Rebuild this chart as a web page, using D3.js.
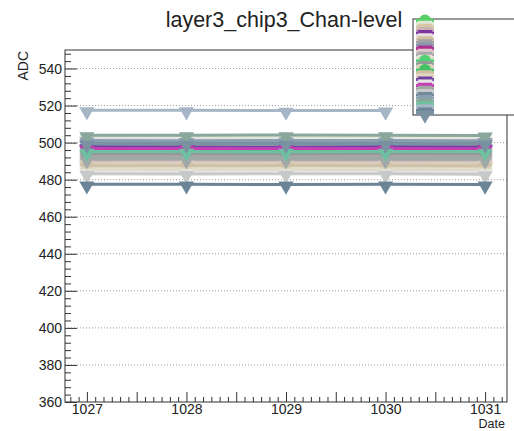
<!DOCTYPE html>
<html>
<head>
<meta charset="utf-8">
<script src="https://cdn.jsdelivr.net/npm/d3@7"></script>
<style>
  html, body { margin: 0; padding: 0; background: #fff; }
  svg { display: block; font-family: "Liberation Sans", Arial, Helvetica, sans-serif; }
</style>
</head>
<body>
<svg id="chart" width="514" height="431"></svg>
<script>
// Run dates on the x axis
const dates = [1027, 1028, 1029, 1030, 1031];

// Channel series: name, colour, marker and ADC level per date (null = no reading)
const channelNames = [
  "ch0","ch1","ch2","ch3","ch4","ch5","ch6","ch7","ch8","ch9",
  "ch10","ch11","ch12","ch13","ch14","ch15","ch16","ch17","ch18","ch19",
  "ch20","ch21","ch22","ch23","ch24","ch25","ch26","ch27","ch28","ch29","ch30"
];
const channelColors = [
  "#55cf66","#dfe7d6","#d6c7a6","#c9b2b2","#7e32a0","#e8e0e0","#cfc0a0","#a2a2a2","#8898b0","#b0308f",
  "#e0c8d0","#a9a9a9","#e1e0d0","#52d072","#919a99","#d8d0b8","#42c262","#d1c1a9","#e0d8c0","#7040a0",
  "#e6e6e6","#c43fb4","#a1a8a8","#c7c9c9","#71899b","#8aa0b0","#89a79b","#6fc0a0","#a6b6c6","#6b8597","#7a91a1"
];
const channelMarkers = [
  "circle","tri","tri","tri","tri","tri","tri","tri","tri","tri",
  "tri","tri","tri","circle","tri","tri","circle","tri","tri","tri",
  "tri","tri","tri","tri","tri","tri","tri","tri","tri","tri","tri"
];
const channelValues = [
  [495.0, 495.1, 495.0, 494.9, 495.0],
  [503.0, 503.1, 502.9, 503.0, 503.0],
  [488.0, 488.1, 488.0, 487.9, 488.0],
  [490.0, 490.0, 490.1, 490.0, 489.9],
  [496.5, 496.4, 496.5, 496.6, 496.5],
  [502.0, 502.0, 501.4, 501.4, 501.5],
  [487.0, 487.1, 487.0, 487.0, 486.9],
  [492.0, 492.0, 492.1, 492.0, 492.0],
  [499.0, 499.0, 499.1, 499.0, 498.9],
  [497.0, 497.0, 497.1, 497.0, 497.0],
  [489.0, 489.1, 489.0, 489.0, 489.0],
  [493.0, 493.0, 493.0, 493.1, 493.0],
  [486.0, 486.0, 486.1, 486.0, 486.0],
  [495.5, 495.5, 495.4, 495.5, 495.6],
  [494.0, 494.0, 494.0, 494.1, 494.0],
  [488.6, 488.5, 488.6, 488.5, 488.5],
  [496.0, 496.1, 496.0, 496.0, 496.0],
  [487.5, 487.5, 487.6, 487.5, 487.4],
  [485.0, 485.1, 485.0, 485.0, 485.0],
  [497.6, 497.5, 497.5, 497.6, 497.5],
  [484.0, 484.0, 484.0, 483.9, 484.0],
  [496.8, 496.9, 496.8, 496.8, 496.7],
  [491.0, 491.1, 491.0, 491.0, 491.0],
  [483.2, 483.1, 483.2, 483.2, 483.0],
  [500.0, 500.0, 500.1, 500.0, 500.0],
  [501.2, 501.0, 501.2, 501.1, 501.0],
  [504.0, 504.0, 504.1, 504.0, 503.9],
  [495.2, 495.2, 495.1, 495.2, 495.2],
  [517.5, 517.5, 517.3, 517.4, null],
  [477.5, 477.5, 477.4, 477.5, 477.4],
  [499.5, 499.5, 499.4, 499.5, 499.6]
];

// Axis ticks and labels
const yTickLabels = [360, 380, 400, 420, 440, 460, 480, 500, 520, 540];
const xTickLabels = [1027, 1028, 1029, 1030, 1031];

const chartTitle = "layer3_chip3_Chan-level";
const yTitle = "ADC";
const xTitle = "Date";

const svg = d3.select("#chart");
const frame = { left: 65, right: 507, top: 50, bottom: 402 };

const x = d3.scaleLinear().domain([1026.78, 1031.22]).range([frame.left, frame.right]);
const y = d3.scaleLinear().domain([360, 550]).range([frame.bottom, frame.top]);

const axisColor = "#333";
const textColor = "#222";

// Horizontal dotted grid at labelled y values
svg.append("g")
  .selectAll("line")
  .data(yTickLabels.filter(v => v > 360))
  .join("line")
  .attr("x1", frame.left).attr("x2", frame.right)
  .attr("y1", d => y(d)).attr("y2", d => y(d))
  .attr("stroke", "#9a9a9a")
  .attr("stroke-width", 1)
  .attr("stroke-dasharray", "1,2");

// Series lines and markers
const line = d3.line()
  .defined(d => d != null)
  .x((d, i) => x(dates[i]))
  .y(d => y(d));
const triSym = d3.symbol().type(d3.symbolTriangle).size(100);
const cirSym = d3.symbol().type(d3.symbolCircle).size(113);

function markerPath(kind) { return kind === "circle" ? cirSym() : triSym(); }
function markerTransform(kind, cx, cy) {
  return kind === "circle" ? `translate(${cx},${cy})` : `translate(${cx},${cy + 1.5}) rotate(180)`;
}

const seriesG = svg.append("g");
channelValues.forEach((vals, k) => {
  const g = seriesG.append("g");
  g.append("path")
    .attr("d", line(vals))
    .attr("fill", "none")
    .attr("stroke", channelColors[k])
    .attr("stroke-width", 3);
  g.selectAll("path.m")
    .data(vals.map((v, i) => ({ v, date: dates[i] })).filter(p => p.v != null))
    .join("path")
    .attr("class", "m")
    .attr("d", markerPath(channelMarkers[k]))
    .attr("transform", p => markerTransform(channelMarkers[k], x(p.date), y(p.v)))
    .attr("fill", channelColors[k]);
});

// Y axis: major and minor ticks pointing into the frame
const yMinor = d3.range(364, 550, 4).filter(v => v % 20 !== 0);
svg.append("g")
  .attr("transform", `translate(${frame.left},0)`)
  .call(d3.axisLeft(y).tickValues(yMinor).tickSize(-6).tickFormat(""))
  .call(g => g.select(".domain").remove())
  .call(g => g.selectAll("line").attr("stroke", axisColor));
svg.append("g")
  .attr("transform", `translate(${frame.left},0)`)
  .call(d3.axisLeft(y).tickValues(yTickLabels).tickSize(-12).tickPadding(3))
  .call(g => g.select(".domain").remove())
  .call(g => g.selectAll("line").attr("stroke", axisColor))
  .call(g => g.selectAll("text").attr("fill", textColor).attr("font-size", 14)
    .attr("font-family", "Liberation Sans, Arial, sans-serif"));

// X axis: labelled integers, half-unit ticks and fine minor ticks
const xMinor = d3.range(0, 54).map(i => 1026.75 + i / 12)
  .filter(v => v > 1026.78 && v < 1031.22 && Math.abs(v * 2 - Math.round(v * 2)) > 1e-6);
const xHalf = [1027.5, 1028.5, 1029.5, 1030.5];
svg.append("g")
  .attr("transform", `translate(0,${frame.bottom})`)
  .call(d3.axisBottom(x).tickValues(xMinor).tickSize(-5).tickFormat(""))
  .call(g => g.select(".domain").remove())
  .call(g => g.selectAll("line").attr("stroke", axisColor));
svg.append("g")
  .attr("transform", `translate(0,${frame.bottom})`)
  .call(d3.axisBottom(x).tickValues(xHalf).tickSize(-10).tickFormat(""))
  .call(g => g.select(".domain").remove())
  .call(g => g.selectAll("line").attr("stroke", axisColor));
svg.append("g")
  .attr("transform", `translate(0,${frame.bottom})`)
  .call(d3.axisBottom(x).tickValues(xTickLabels).tickSize(-10).tickPadding(2).tickFormat(d3.format("d")))
  .call(g => g.select(".domain").remove())
  .call(g => g.selectAll("line").attr("stroke", axisColor))
  .call(g => g.selectAll("text").attr("fill", textColor).attr("font-size", 14)
    .attr("font-family", "Liberation Sans, Arial, sans-serif"));

// Frame
svg.append("rect")
  .attr("x", frame.left).attr("y", frame.top)
  .attr("width", frame.right - frame.left).attr("height", frame.bottom - frame.top)
  .attr("fill", "none").attr("stroke", axisColor).attr("stroke-width", 1);

// Titles
svg.append("text")
  .attr("x", 284).attr("y", 27)
  .attr("text-anchor", "middle")
  .attr("font-size", 21.5)
  .attr("fill", textColor)
  .text(chartTitle);
svg.append("text")
  .attr("transform", "translate(28,51) rotate(-90)")
  .attr("text-anchor", "end")
  .attr("font-size", 14)
  .attr("fill", textColor)
  .text(yTitle);
svg.append("text")
  .attr("x", 505).attr("y", 428.3)
  .attr("text-anchor", "end")
  .attr("font-size", 12.5)
  .attr("fill", textColor)
  .text(xTitle);

// Legend: one densely packed row per channel
const legend = { x: 413, y: 19, w: 130, h: 96 };
svg.append("rect")
  .attr("x", legend.x).attr("y", legend.y)
  .attr("width", legend.w).attr("height", legend.h)
  .attr("fill", "#fff").attr("stroke", axisColor).attr("stroke-width", 1);
const rowH = legend.h / channelNames.length;
const legendG = svg.append("g");
channelNames.forEach((name, k) => {
  const cy = legend.y + rowH * (k + 0.5);
  const cx = 425;
  const g = legendG.append("g");
  g.append("line")
    .attr("x1", cx - 9).attr("x2", cx + 9)
    .attr("y1", cy).attr("y2", cy)
    .attr("stroke", channelColors[k]).attr("stroke-width", 3);
  g.append("path")
    .attr("d", markerPath(channelMarkers[k]))
    .attr("transform", markerTransform(channelMarkers[k], cx, cy))
    .attr("fill", channelColors[k]);
});
</script>
</body>
</html>
